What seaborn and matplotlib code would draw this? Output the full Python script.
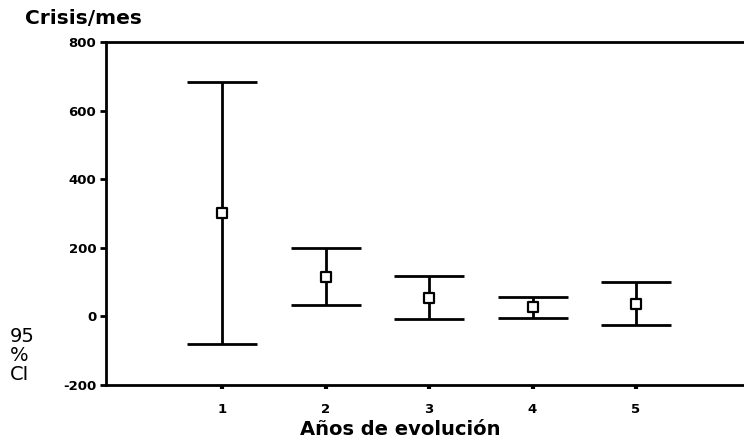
import numpy as np
import pandas as pd
import seaborn as sns
import matplotlib
matplotlib.use("Agg")
import matplotlib.pyplot as plt

# values (mean and 95% CI limits)
years = [1, 2, 3, 4, 5]
means = [300, 116, 53, 27, 37]
ci_low = [-80, 33, -9, -5, -24]
ci_high = [682, 198, 117, 57, 100]

df = pd.DataFrame({"year": years, "mean": means, "lo": ci_low, "hi": ci_high})

sns.set_style("white")
plt.rcParams["font.family"] = ["DejaVu Sans"]
plt.rcParams["text.color"] = "black"
plt.rcParams["axes.unicode_minus"] = False

fig = plt.figure(figsize=(7.44, 4.44), dpi=100)
ax = fig.add_axes([106 / 744, 1 - 385 / 444, 1 - 106 / 744, (385 - 42) / 444])

yerr = np.vstack([df["mean"] - df["lo"], df["hi"] - df["mean"]])
ax.errorbar(df["year"], df["mean"], yerr=yerr, fmt="none", ecolor="black",
            elinewidth=2, capsize=25.5, capthick=2, zorder=2)
sns.scatterplot(data=df, x="year", y="mean", marker="s", s=60,
                facecolor="white", edgecolor="black", linewidth=1.6,
                ax=ax, zorder=3)

ax.set_ylim(-200, 800)
ax.set_xlim(1 - 116 / 103.5, 1 + 522 / 103.5)
ax.set_yticks([-200, 0, 200, 400, 600, 800])
ax.set_xticks(years)
ax.set_xticklabels([str(y) for y in years])

for s in ["left", "top", "bottom"]:
    ax.spines[s].set_color("black")
    ax.spines[s].set_linewidth(2)
ax.spines["right"].set_visible(False)

ax.tick_params(axis="y", direction="out", length=4, width=2, left=True,
               labelsize=9.5, pad=3, colors="black")
ax.tick_params(axis="x", direction="out", length=3, width=3, bottom=True,
               labelsize=9.5, pad=10, colors="black")
for lbl in ax.get_xticklabels() + ax.get_yticklabels():
    lbl.set_fontweight("bold")

ax.set_xlabel("")
ax.set_ylabel("")

fig.text(25 / 744, 1 - 24 / 444, "Crisis/mes", fontsize=14.5, fontweight="bold",
         ha="left", va="baseline")
fig.text(10 / 744, 1 - 384 / 444, "95\n%\nCI", fontsize=14, ha="left",
         va="bottom", linespacing=1.0)
fig.text(400 / 744, 1 - 429 / 444, "Años de evolución", fontsize=14,
         fontweight="bold", ha="center", va="center")

fig.savefig("out.png", dpi=100)
